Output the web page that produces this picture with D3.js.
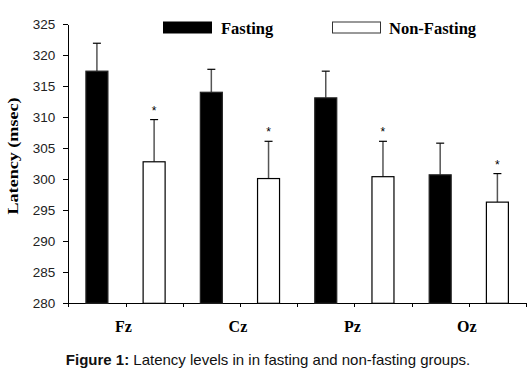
<!DOCTYPE html>
<html><head><meta charset="utf-8">
<script src="https://cdn.jsdelivr.net/npm/d3@7"></script>
<style>
html,body{margin:0;padding:0;background:#fff;}
svg{display:block;}
</style></head>
<body>
<svg id="chart" width="532" height="373"></svg>
<script>
// ---- data ----
const categories = ["Fz", "Cz", "Pz", "Oz"];
const seriesNames = ["Fasting", "Non-Fasting"];
const fastingValues = [317.4, 314.0, 313.1, 300.7];
const fastingErrors = [4.5, 3.7, 4.3, 5.1];
const nonFastingValues = [302.8, 300.1, 300.4, 296.3];
const nonFastingErrors = [6.8, 6.0, 5.7, 4.6];
const nonFastingStars = [true, true, true, true];
const yTicks = [280, 285, 290, 295, 300, 305, 310, 315, 320, 325];
const yLabel = "Latency (msec)";

(function () {
const rows = categories.map((c, i) => ({
  cat: c,
  values: [
    {s: seriesNames[0], v: fastingValues[i], e: fastingErrors[i], star: false},
    {s: seriesNames[1], v: nonFastingValues[i], e: nonFastingErrors[i], star: nonFastingStars[i]}
  ]
}));

const svg = d3.select("#chart");
const mLeft = 68.3, mRight = 526, mTop = 24, mBottom = 303.3;

const x0 = d3.scaleBand().domain(categories).range([mLeft, mRight]).padding(0);
const x1 = d3.scaleBand().domain(seriesNames).range([0, x0.bandwidth()])
  .paddingInner(0.598).paddingOuter(0.299);
const y = d3.scaleLinear().domain([280, 325]).range([mBottom, mTop]);
const serif = "'Liberation Serif','Times New Roman',serif";
const sans = "'Liberation Sans',Arial,sans-serif";

// y axis
const yAxis = svg.append("g").attr("transform", `translate(${mLeft},0)`)
  .call(d3.axisLeft(y).tickValues(yTicks).tickSize(5).tickSizeOuter(0).tickPadding(8));
yAxis.selectAll("path,line").attr("stroke", "#000").attr("shape-rendering", "crispEdges");
yAxis.selectAll("text").attr("font-family", sans).attr("font-size", 13.5).attr("fill", "#222");

// x axis with slot ticks
const nSlots = categories.length * seriesNames.length;
const slotScale = d3.scaleLinear().domain([0, nSlots]).range([mLeft, mRight]);
const xAxis = svg.append("g").attr("transform", `translate(0,${mBottom})`)
  .call(d3.axisBottom(slotScale).tickValues(d3.range(0, nSlots + 1))
    .tickSize(4).tickSizeOuter(0).tickFormat(""));
xAxis.selectAll("path,line").attr("stroke", "#000").attr("shape-rendering", "crispEdges");

// category labels
svg.append("g").selectAll("text").data(categories).join("text")
  .attr("x", d => x0(d) + x0.bandwidth() / 2 - 2)
  .attr("y", 332)
  .attr("text-anchor", "middle")
  .attr("font-family", serif).attr("font-weight", "bold").attr("font-size", 16)
  .text(d => d);

// bars
const groups = svg.append("g").selectAll("g").data(rows).join("g")
  .attr("transform", d => `translate(${x0(d.cat)},0)`);

groups.selectAll("line.err").data(d => d.values).join("line").attr("class", "err")
  .attr("x1", d => x1(d.s) + x1.bandwidth() / 2).attr("x2", d => x1(d.s) + x1.bandwidth() / 2)
  .attr("y1", d => y(d.v)).attr("y2", d => y(d.v + d.e))
  .attr("stroke", "#555").attr("stroke-width", 1.5);
groups.selectAll("line.cap").data(d => d.values).join("line").attr("class", "cap")
  .attr("x1", d => x1(d.s) + x1.bandwidth() / 2 - 4).attr("x2", d => x1(d.s) + x1.bandwidth() / 2 + 4)
  .attr("y1", d => y(d.v + d.e)).attr("y2", d => y(d.v + d.e))
  .attr("stroke", "#000").attr("stroke-width", 1.2);

groups.selectAll("rect").data(d => d.values).join("rect")
  .attr("x", d => x1(d.s) + 0.5)
  .attr("y", d => y(d.v))
  .attr("width", x1.bandwidth() - 1)
  .attr("height", d => mBottom - y(d.v))
  .attr("fill", d => d.s === seriesNames[0] ? "#000" : "#fff")
  .attr("stroke", d => d.s === seriesNames[0] ? "#222" : "#000")
  .attr("stroke-width", 1.2);

groups.selectAll("text.star").data(d => d.values.filter(v => v.star)).join("text").attr("class", "star")
  .attr("x", d => x1(d.s) + x1.bandwidth() / 2)
  .attr("y", d => y(d.v + d.e) - 5)
  .attr("text-anchor", "middle")
  .attr("font-family", sans).attr("font-size", 12)
  .text("*");

// y label
svg.append("text")
  .attr("transform", "translate(18,156) rotate(-90)")
  .attr("text-anchor", "middle")
  .attr("font-family", serif).attr("font-weight", "bold").attr("font-size", 15)
  .attr("textLength", 117).attr("lengthAdjust", "spacingAndGlyphs")
  .text(yLabel);

// legend
const legendX = [163, 332];
const legendTextX = [221, 389];
const leg = svg.append("g").selectAll("g").data(seriesNames).join("g");
leg.append("rect")
  .attr("x", (d, i) => legendX[i] + 0.5).attr("y", 22)
  .attr("width", 48).attr("height", 11)
  .attr("fill", (d, i) => i === 0 ? "#000" : "#fff")
  .attr("stroke", (d, i) => i === 0 ? "#000" : "#333");
leg.append("text")
  .attr("x", (d, i) => legendTextX[i]).attr("y", 33.5)
  .attr("font-family", serif).attr("font-weight", "bold").attr("font-size", 16.5)
  .text(d => d);

// caption
const cap = svg.append("text").attr("x", 268).attr("y", 365).attr("text-anchor", "middle")
  .attr("font-family", sans).attr("font-size", 15).attr("fill", "#111");
cap.append("tspan").attr("font-weight", "bold").text("Figure 1:");
cap.append("tspan").text(" Latency levels in in fasting and non-fasting groups.");
})();
</script>
</body></html>
